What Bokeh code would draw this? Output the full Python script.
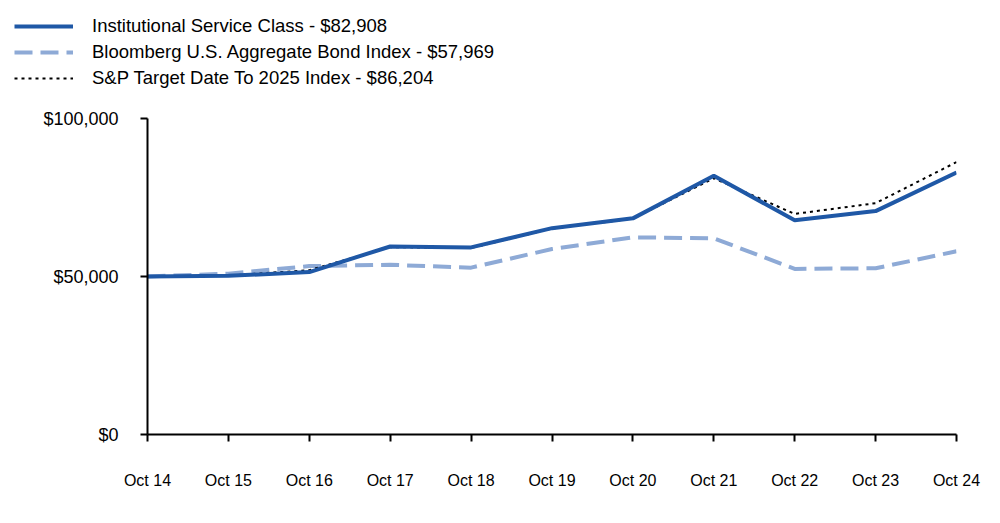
from bokeh.plotting import figure
from bokeh.models import (Range1d, FixedTicker, NumeralTickFormatter, Legend,
                          LegendItem, ColumnDataSource)
from bokeh.embed import file_html
from bokeh.resources import INLINE

# ---- data ----
x_labels = ["Oct 14", "Oct 15", "Oct 16", "Oct 17", "Oct 18", "Oct 19",
            "Oct 20", "Oct 21", "Oct 22", "Oct 23", "Oct 24"]
institutional = [50000, 50200, 51400, 59500, 59200, 65300, 68400, 81900, 67800, 70700, 82908]
bloomberg = [50000, 50900, 53300, 53700, 52800, 58700, 62400, 62100, 52400, 52600, 57969]
sp_target = [50000, 50300, 52000, 59300, 59000, 65200, 68300, 81100, 69800, 73200, 86204]
series_names = ["Institutional Service Class - $82,908",
                "Bloomberg U.S. Aggregate Bond Index - $57,969",
                "S&P Target Date To 2025 Index - $86,204"]
y_ticks = [0, 50000, 100000]

FONT = "Liberation Sans"
W = 992
styles = [dict(line_color="#1F58A6", line_width=4),
          dict(line_color="#8EAAD6", line_width=4, line_dash="18 8"),
          dict(line_color="black", line_width=2, line_dash="3 4")]

xs = list(range(len(x_labels)))
src = ColumnDataSource(dict(x=xs, inst=institutional, bloom=bloomberg, sp=sp_target))

# ---- legend strip (separate root so it is not frame-aligned / clipped) ----
lg = figure(width=W, height=100, output_backend="svg", toolbar_location=None,
            x_range=Range1d(0, 1), y_range=Range1d(0, 1),
            x_axis_location=None, y_axis_location=None,
            min_border_left=0, min_border_right=0, min_border_top=0, min_border_bottom=0)
lg.outline_line_color = None
lg.xgrid.grid_line_color = None
lg.ygrid.grid_line_color = None
# legend-key renderers: placed outside the visible range, only their key is shown
key_src = ColumnDataSource(dict(x=[5, 6], y=[5, 6]))
lr = [lg.line("x", "y", source=key_src, **s) for s in styles]
legend = Legend(items=[LegendItem(label=n, renderers=[r]) for n, r in zip(series_names, lr)],
                location=(14, 11), orientation="vertical")
legend.padding = 0
legend.margin = 0
legend.spacing = 4
legend.glyph_width = 59
legend.glyph_height = 20
legend.label_height = 20
legend.label_standoff = 19
legend.label_text_font = FONT
legend.label_text_font_size = "18.5px"
legend.label_text_color = "black"
legend.border_line_color = None
legend.background_fill_alpha = 0
lg.add_layout(legend)

# ---- main chart ----
p = figure(width=W, height=415, output_backend="svg", toolbar_location=None,
           x_range=Range1d(0, len(x_labels) - 1), y_range=Range1d(0, 100000),
           min_border_left=147, min_border_right=36, min_border_top=18,
           min_border_bottom=81)
p.outline_line_color = None
p.xgrid.grid_line_color = None
p.ygrid.grid_line_color = None

r_bloom = p.line("x", "bloom", source=src, **styles[1])
r_sp = p.line("x", "sp", source=src, **styles[2])
r_inst = p.line("x", "inst", source=src, **styles[0])

p.xaxis.ticker = FixedTicker(ticks=xs)
p.xaxis.major_label_overrides = {i: lab for i, lab in enumerate(x_labels)}
p.xaxis.major_tick_out = 7
p.xaxis.major_tick_in = 0
p.xaxis.minor_tick_line_color = None
p.xaxis.major_label_standoff = 30
p.xaxis.major_label_text_font = FONT
p.xaxis.major_label_text_font_size = "16px"
p.xaxis.major_label_text_color = "black"
p.xaxis.axis_line_color = "black"
p.xaxis.axis_line_width = 2
p.xaxis.major_tick_line_width = 2

p.yaxis.ticker = FixedTicker(ticks=y_ticks)
p.yaxis.formatter = NumeralTickFormatter(format="$0,0")
p.yaxis.major_tick_out = 7
p.yaxis.major_tick_in = 0
p.yaxis.minor_tick_line_color = None
p.yaxis.major_label_standoff = 22
p.yaxis.major_label_text_font = FONT
p.yaxis.major_label_text_font_size = "18px"
p.yaxis.major_label_text_color = "black"
p.yaxis.axis_line_color = "black"
p.yaxis.axis_line_width = 2
p.yaxis.major_tick_line_width = 2

open("out.html", "w").write(file_html([lg, p], INLINE))
